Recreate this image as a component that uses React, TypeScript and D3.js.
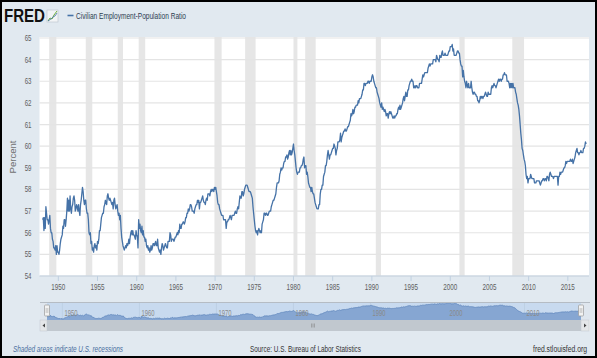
import React from 'react';
import * as d3 from 'd3';

// Civilian Employment-Population Ratio, monthly, Jan 1948 onward (percent)
const START_YEAR = 1948;
const monthlyValues: number[][] = [
  [56.6, 56.7, 56.1, 56.7, 56.2, 57.2, 56.9, 56.6, 56.6, 56.4, 56.6, 56.8],
  [56.2, 56.0, 56.0, 55.7, 55.6, 55.3, 55.3, 55.2, 55.4, 55.0, 55.4, 55.1],
  [55.1, 55.0, 55.2, 55.5, 55.7, 55.8, 55.9, 56.3, 56.2, 56.6, 56.6, 56.3],
  [56.6, 57.0, 57.6, 57.0, 57.5, 57.0, 57.7, 57.1, 56.9, 57.2, 57.3, 57.6],
  [57.7, 57.5, 57.0, 57.1, 57.3, 57.2, 57.0, 57.3, 57.0, 56.8, 57.3, 57.5],
  [57.8, 58.1, 57.9, 57.5, 57.3, 57.5, 57.5, 57.1, 56.9, 56.9, 56.6, 56.0],
  [55.9, 56.0, 55.5, 55.6, 55.2, 55.3, 55.1, 55.4, 55.5, 55.3, 55.4, 55.2],
  [55.6, 55.5, 55.7, 56.1, 56.1, 56.4, 56.7, 56.8, 56.9, 56.9, 57.2, 57.3],
  [57.5, 57.4, 57.3, 57.7, 57.8, 57.6, 57.5, 57.6, 57.5, 57.4, 57.3, 57.4],
  [57.1, 57.5, 57.6, 57.3, 57.1, 57.2, 57.3, 57.0, 56.8, 56.9, 56.6, 56.8],
  [56.2, 55.8, 55.6, 55.4, 55.3, 55.2, 55.3, 55.4, 55.3, 55.5, 55.4, 55.5],
  [55.7, 55.5, 55.8, 56.0, 56.1, 55.9, 56.1, 55.9, 55.9, 55.8, 55.7, 56.1],
  [55.9, 55.8, 55.3, 56.6, 56.2, 56.4, 56.1, 56.0, 56.3, 55.9, 56.1, 55.8],
  [55.8, 55.6, 55.7, 55.4, 55.3, 55.4, 55.2, 55.3, 55.1, 55.2, 55.4, 55.2],
  [55.3, 55.5, 55.5, 55.4, 55.5, 55.6, 55.4, 55.4, 55.7, 55.3, 55.2, 55.1],
  [55.2, 55.0, 55.3, 55.5, 55.4, 55.2, 55.3, 55.4, 55.5, 55.4, 55.3, 55.3],
  [55.6, 55.6, 55.6, 56.0, 55.9, 55.6, 55.7, 55.7, 55.7, 55.6, 55.7, 55.8],
  [55.8, 55.9, 56.0, 55.9, 56.1, 56.0, 56.4, 56.2, 56.2, 56.4, 56.4, 56.5],
  [56.5, 56.4, 56.5, 56.7, 56.7, 56.9, 56.9, 57.1, 57.0, 57.1, 57.3, 57.3],
  [57.2, 57.0, 57.0, 57.0, 56.9, 57.1, 57.2, 57.3, 57.3, 57.5, 57.4, 57.5],
  [57.1, 57.4, 57.4, 57.5, 57.6, 57.7, 57.5, 57.4, 57.4, 57.3, 57.5, 57.6],
  [57.5, 57.8, 57.8, 57.8, 57.7, 57.9, 58.0, 57.9, 58.0, 58.0, 57.9, 58.1],
  [58.0, 58.1, 57.9, 57.7, 57.4, 57.3, 57.3, 57.1, 57.0, 56.9, 56.8, 56.8],
  [56.8, 56.6, 56.6, 56.6, 56.6, 56.2, 56.5, 56.5, 56.6, 56.6, 56.7, 56.8],
  [56.7, 56.6, 56.8, 56.8, 56.8, 56.8, 56.9, 57.0, 56.9, 56.9, 57.1, 57.2],
  [57.1, 57.4, 57.7, 57.6, 57.6, 57.9, 57.9, 57.7, 57.8, 58.0, 58.1, 58.2],
  [58.2, 58.2, 58.1, 58.0, 57.9, 57.9, 57.9, 57.8, 57.7, 57.6, 57.2, 56.9],
  [56.6, 56.3, 56.1, 56.0, 56.1, 55.9, 56.1, 56.2, 56.1, 56.0, 56.1, 56.0],
  [56.4, 56.5, 56.6, 56.9, 56.9, 56.8, 56.9, 56.9, 56.8, 56.8, 56.9, 57.0],
  [57.0, 57.0, 57.2, 57.3, 57.4, 57.5, 57.5, 57.6, 57.7, 57.8, 58.1, 58.3],
  [58.3, 58.3, 58.4, 58.7, 58.8, 59.0, 58.9, 59.0, 59.0, 59.2, 59.3, 59.3],
  [59.5, 59.5, 59.6, 59.4, 59.5, 59.7, 59.8, 59.6, 59.8, 59.6, 59.7, 59.9],
  [60.1, 59.8, 59.6, 59.3, 59.0, 58.8, 58.7, 58.8, 58.8, 58.8, 59.0, 59.0],
  [59.1, 59.1, 59.2, 59.4, 59.5, 59.0, 59.1, 59.1, 58.7, 58.8, 58.6, 58.3],
  [58.2, 58.1, 58.1, 57.9, 58.1, 57.9, 57.8, 57.8, 57.6, 57.4, 57.3, 57.2],
  [57.1, 57.1, 57.1, 57.3, 57.3, 57.8, 58.0, 58.0, 58.2, 58.2, 58.6, 58.7],
  [58.8, 59.1, 59.1, 59.3, 59.6, 59.8, 59.6, 59.4, 59.6, 59.6, 59.7, 59.8],
  [59.9, 59.9, 60.1, 60.0, 59.9, 59.6, 59.8, 59.9, 60.2, 60.2, 60.2, 60.3],
  [60.6, 60.2, 60.4, 60.5, 60.6, 60.7, 60.7, 60.8, 60.7, 60.7, 60.8, 60.9],
  [60.9, 61.0, 61.1, 61.2, 61.5, 61.4, 61.5, 61.7, 61.5, 61.6, 61.8, 61.8],
  [61.9, 61.9, 61.9, 62.1, 62.0, 62.2, 62.2, 62.2, 62.3, 62.4, 62.6, 62.6],
  [62.9, 62.9, 62.8, 62.9, 62.9, 62.9, 63.0, 63.0, 62.9, 63.0, 63.0, 63.0],
  [63.2, 63.3, 63.2, 63.0, 62.9, 62.8, 62.7, 62.7, 62.5, 62.4, 62.3, 62.2],
  [62.0, 61.9, 61.8, 62.0, 61.7, 61.8, 61.7, 61.6, 61.7, 61.6, 61.4, 61.5],
  [61.5, 61.3, 61.5, 61.6, 61.5, 61.6, 61.5, 61.4, 61.3, 61.3, 61.4, 61.3],
  [61.4, 61.4, 61.5, 61.5, 61.7, 61.8, 61.7, 61.9, 61.7, 61.8, 61.9, 62.0],
  [62.2, 62.3, 62.1, 62.3, 62.5, 62.3, 62.3, 62.6, 62.6, 62.8, 62.9, 63.0],
  [63.0, 63.1, 63.0, 63.0, 62.7, 62.7, 62.8, 62.7, 62.8, 62.8, 62.7, 62.7],
  [62.7, 62.9, 62.9, 62.9, 62.9, 63.1, 63.3, 63.2, 63.3, 63.4, 63.4, 63.4],
  [63.4, 63.4, 63.6, 63.7, 63.8, 63.7, 63.8, 63.8, 63.8, 63.8, 64.0, 64.0],
  [64.0, 64.0, 63.9, 64.2, 64.1, 64.0, 64.0, 63.9, 64.2, 64.1, 64.1, 64.3],
  [64.4, 64.2, 64.2, 64.2, 64.3, 64.2, 64.2, 64.2, 64.2, 64.3, 64.4, 64.4],
  [64.6, 64.6, 64.6, 64.7, 64.4, 64.5, 64.2, 64.2, 64.2, 64.2, 64.3, 64.4],
  [64.4, 64.3, 64.3, 64.0, 63.8, 63.7, 63.7, 63.2, 63.5, 63.2, 63.0, 62.9],
  [62.7, 63.0, 62.8, 62.7, 62.9, 62.7, 62.7, 62.7, 63.0, 62.7, 62.5, 62.4],
  [62.5, 62.5, 62.4, 62.4, 62.3, 62.3, 62.1, 62.1, 62.0, 62.1, 62.3, 62.2],
  [62.3, 62.3, 62.2, 62.3, 62.3, 62.4, 62.5, 62.4, 62.3, 62.3, 62.5, 62.4],
  [62.4, 62.4, 62.4, 62.7, 62.8, 62.7, 62.8, 62.9, 62.8, 62.8, 62.7, 62.8],
  [62.9, 63.0, 63.1, 63.0, 63.1, 63.1, 63.0, 63.1, 63.1, 63.3, 63.3, 63.4],
  [63.3, 63.3, 63.3, 63.0, 63.0, 63.0, 62.9, 62.7, 62.9, 62.7, 62.9, 62.7],
  [62.9, 62.7, 62.7, 62.7, 62.5, 62.4, 62.2, 62.0, 61.9, 61.7, 61.4, 61.0],
  [60.6, 60.3, 59.9, 59.8, 59.6, 59.4, 59.3, 59.1, 58.7, 58.5, 58.6, 58.3],
  [58.5, 58.5, 58.5, 58.7, 58.6, 58.5, 58.5, 58.5, 58.5, 58.3, 58.3, 58.3],
  [58.4, 58.4, 58.4, 58.4, 58.4, 58.3, 58.2, 58.3, 58.4, 58.4, 58.5, 58.5],
  [58.4, 58.5, 58.5, 58.4, 58.6, 58.6, 58.5, 58.4, 58.7, 58.8, 58.7, 58.6],
  [58.6, 58.6, 58.5, 58.6, 58.6, 58.6, 58.6, 58.6, 58.6, 58.2, 58.6, 58.6],
  [58.8, 58.7, 58.8, 58.8, 58.8, 58.9, 59.0, 59.0, 59.1, 59.3, 59.2, 59.3],
  [59.3, 59.3, 59.3, 59.3, 59.4, 59.3, 59.3, 59.4, 59.2, 59.3, 59.4, 59.5],
  [59.7, 59.8, 59.9, 59.7, 59.7, 59.6, 59.7, 59.7, 59.8, 59.7, 59.7, 59.7],
  [59.9, 59.9, 60.0, 60.2, 60.1],
];

// NBER recessions (peak month, trough month)
const recessions: [string, string][] = [
  ['1948-11', '1949-10'], ['1953-07', '1954-05'], ['1957-08', '1958-04'],
  ['1960-04', '1961-02'], ['1969-12', '1970-11'], ['1973-11', '1975-03'],
  ['1980-01', '1980-07'], ['1981-07', '1982-11'], ['1990-07', '1991-03'],
  ['2001-03', '2001-11'], ['2007-12', '2009-06'],
];

const yTicks = [54, 55, 56, 57, 58, 59, 60, 61, 62, 63, 64, 65];
const xTicks = [1950, 1955, 1960, 1965, 1970, 1975, 1980, 1985, 1990, 1995, 2000, 2005, 2010, 2015];
const navTicks = [1950, 1960, 1970, 1980, 1990, 2000, 2010];

const W = 597;
const H = 358;
const FONT = "'Liberation Sans', Arial, sans-serif";

const toYear = (s: string) => {
  const [y, m] = s.split('-').map(Number);
  return y + (m - 1) / 12;
};

export default function App() {
  const points = monthlyValues.flatMap((row, i) =>
    row.map((v, m) => ({ t: START_YEAR + i + m / 12, v }))
  );

  const x = d3.scaleLinear().domain([1947.6, 2017.7]).range([39.5, 589]);
  const y = d3.scaleLinear().domain([54, 65]).range([276, 38]);

  const line = d3.line<{ t: number; v: number }>()
    .x(d => x(d.t))
    .y(d => y(d.v));

  const tEnd = points[points.length - 1].t;
  const nx = d3.scaleLinear().domain([START_YEAR, tEnd]).range([47, 581]);
  const ny = d3.scaleLinear().domain([55, 64.7]).range([319, 303]);
  const navArea = d3.area<{ t: number; v: number }>()
    .x(d => nx(d.t))
    .y0(320)
    .y1(d => ny(d.v));
  const navLine = d3.line<{ t: number; v: number }>()
    .x(d => nx(d.t))
    .y(d => ny(d.v));

  return (
    <svg width={W} height={H} style={{ position: 'absolute', left: 0, top: 0 }} fontFamily={FONT}>
      <rect x={0} y={0} width={W} height={H} fill="#e1e9f0" />

      {/* header */}
      <text x={4} y={22} fontSize={18} fontWeight={900} fill="#111" textLength={41} lengthAdjust="spacingAndGlyphs">FRED</text>
      <rect x={47} y={10} width={11} height={12} fill="#f2f4f6" stroke="#b8c2cc" strokeWidth={0.6} />
      <polyline points="48,21 50,18 52,19 54,15 57,11" fill="none" stroke="#6cae3a" strokeWidth={1} />
      <polyline points="48,21 51,19 53,17 55,16 57,13" fill="none" stroke="#4572a7" strokeWidth={0.8} />
      <line x1={67.5} x2={73.5} y1={15.5} y2={15.5} stroke="#4572a7" strokeWidth={1.6} />
      <text x={76} y={18.5} fontSize={9.5} fill="#2d3e50" textLength={110} lengthAdjust="spacingAndGlyphs">
        Civilian Employment-Population Ratio
      </text>

      {/* plot background */}
      <rect x={x.range()[0]} y={37} width={x.range()[1] - x.range()[0]} height={276 - 37} fill="#ffffff" />

      {/* recessions */}
      {recessions.map(([a, b]) => (
        <rect key={a} x={x(toYear(a))} y={37} width={x(toYear(b)) - x(toYear(a))} height={276 - 37} fill="#e6e6e6" />
      ))}

      {/* grid lines */}
      {yTicks.map(t => (
        <line key={t} x1={x.range()[0]} x2={x.range()[1]} y1={y(t)} y2={y(t)} stroke="#e4e4e4" strokeWidth={1.2} />
      ))}

      {/* y labels */}
      {yTicks.map(t => (
        <text key={t} x={31.5} y={y(t) + 3} fontSize={9.5} fill="#606060" textAnchor="end" textLength={6.8} lengthAdjust="spacingAndGlyphs">{t}</text>
      ))}
      <text transform="translate(15.5,157) rotate(-90)" fontSize={8.5} fill="#707070" textAnchor="middle" textLength={33} lengthAdjust="spacingAndGlyphs">Percent</text>

      {/* x axis */}
      <line x1={x.range()[0]} x2={x.range()[1]} y1={276} y2={276} stroke="#c0d0e0" strokeWidth={1} />
      {xTicks.map(t => (
        <g key={t}>
          <line x1={x(t)} x2={x(t)} y1={276} y2={281} stroke="#c0d0e0" strokeWidth={1} />
          <text x={x(t)} y={290} fontSize={9.5} fill="#606060" textAnchor="middle" textLength={14} lengthAdjust="spacingAndGlyphs">{t}</text>
        </g>
      ))}

      {/* series */}
      <path d={line(points) ?? ''} fill="none" stroke="#4572a7" strokeWidth={1.3} strokeLinejoin="round" />

      {/* navigator */}
      <rect x={40} y={302} width={550} height={18} fill="#dfe6ee" />
      <rect x={nx(START_YEAR)} y={302} width={nx(tEnd) - nx(START_YEAR)} height={18} fill="#c8daef" />
      {navTicks.map(t => (
        <line key={t} x1={nx(t)} x2={nx(t)} y1={302} y2={320} stroke="#b7c9de" strokeWidth={0.6} />
      ))}
      <path d={navArea(points) ?? ''} fill="#86a6d2" />
      <path d={navLine(points) ?? ''} fill="none" stroke="#5f86bd" strokeWidth={0.8} />
      {navTicks.map(t => (
        <text key={t} x={nx(t) + 2} y={316} fontSize={8.5} fill="#8a8a8a" textLength={13} lengthAdjust="spacingAndGlyphs">{t}</text>
      ))}
      <line x1={40} x2={590} y1={302.5} y2={302.5} stroke="#b5bcc4" strokeWidth={1} />
      {[nx(START_YEAR), nx(tEnd)].map((hx, i) => (
        <g key={i}>
          <rect x={hx - 2.5} y={305} width={5} height={11} rx={1} fill="#f2f2f2" stroke="#999" strokeWidth={0.7} />
          <line x1={hx - 0.8} x2={hx - 0.8} y1={308} y2={313} stroke="#999" strokeWidth={0.5} />
          <line x1={hx + 0.8} x2={hx + 0.8} y1={308} y2={313} stroke="#999" strokeWidth={0.5} />
        </g>
      ))}

      {/* scrollbar */}
      <rect x={40} y={320} width={550} height={11} fill="#eeeeee" />
      <rect x={47} y={320} width={534} height={11} fill="#c1c8cf" />
      <rect x={40} y={320} width={7} height={11} fill="#e4e6e8" stroke="#c1c8cf" strokeWidth={0.5} />
      <rect x={581} y={320} width={8} height={11} fill="#e4e6e8" stroke="#c1c8cf" strokeWidth={0.5} />
      <path d="M45,323.5 L42.5,325.5 L45,327.5 Z" fill="#444" />
      <path d="M584,323.5 L586.5,325.5 L584,327.5 Z" fill="#444" />
      {[-1.5, 0, 1.5].map(d => (
        <line key={d} x1={313 + d} x2={313 + d} y1={323.5} y2={327.5} stroke="#888" strokeWidth={0.6} />
      ))}

      {/* footer */}
      <text x={13} y={352} fontSize={9} fontStyle="italic" fill="#4a6fa0" textLength={110} lengthAdjust="spacingAndGlyphs">Shaded areas indicate U.S. recessions</text>
      <text x={250} y={352} fontSize={9} fill="#333" textLength={111} lengthAdjust="spacingAndGlyphs">Source: U.S. Bureau of Labor Statistics</text>
      <g transform="translate(533,352) scale(0.755,1)">
        <text x={0} y={0} fontSize={9} fill="#333" textLength={71.5} lengthAdjust="spacingAndGlyphs">fred.stlouisfed.org</text>
      </g>

      {/* outer border */}
      <rect x={1} y={1} width={W - 2} height={H - 2} fill="none" stroke="#000" strokeWidth={2} />
    </svg>
  );
}
